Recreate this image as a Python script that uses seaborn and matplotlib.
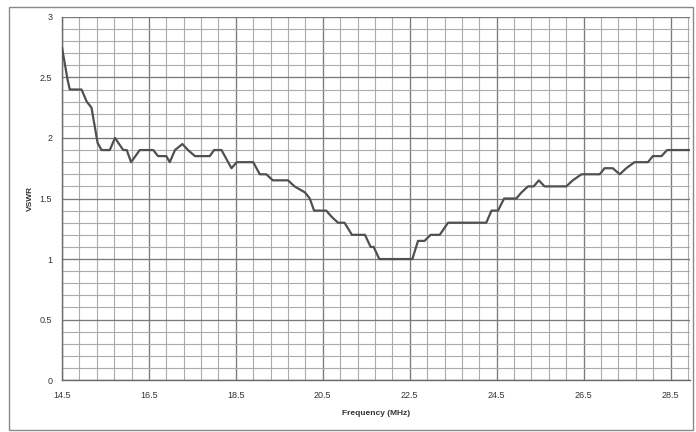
import matplotlib.pyplot as plt
import seaborn as sns
import pandas as pd
import numpy as np
from matplotlib.patches import Rectangle

sns.set_theme(style='white')
plt.rcParams['font.family'] = ['Liberation Sans', 'DejaVu Sans']

# VSWR readings (frequency in MHz)
freq = [14.5, 14.63, 14.68, 14.95, 15.07, 15.18, 15.32, 15.41, 15.6, 15.72,
        15.91, 15.99, 16.09, 16.29, 16.6, 16.71, 16.9, 16.98, 17.1, 17.27,
        17.4, 17.56, 17.9, 18.0, 18.17, 18.4, 18.52, 18.9, 19.05, 19.2,
        19.35, 19.7, 19.85, 20.09, 20.2, 20.3, 20.58, 20.7, 20.85, 21.0,
        21.17, 21.47, 21.6, 21.67, 21.8, 22.56, 22.69, 22.84, 22.98, 23.19,
        23.38, 24.26, 24.38, 24.53, 24.67, 24.95, 25.07, 25.22, 25.35, 25.47,
        25.6, 26.1, 26.25, 26.45, 26.87, 26.98, 27.17, 27.33, 27.48, 27.67,
        27.98, 28.09, 28.29, 28.42, 28.94]
vswr = [2.75, 2.48, 2.4, 2.4, 2.3, 2.25, 1.96, 1.9, 1.9, 2.0,
        1.9, 1.9, 1.8, 1.9, 1.9, 1.85, 1.85, 1.8, 1.9, 1.95,
        1.9, 1.85, 1.85, 1.9, 1.9, 1.75, 1.8, 1.8, 1.7, 1.7,
        1.65, 1.65, 1.6, 1.55, 1.5, 1.4, 1.4, 1.35, 1.3, 1.3,
        1.2, 1.2, 1.1, 1.1, 1.0, 1.0, 1.15, 1.15, 1.2, 1.2,
        1.3, 1.3, 1.4, 1.4, 1.5, 1.5, 1.55, 1.6, 1.6, 1.65,
        1.6, 1.6, 1.65, 1.7, 1.7, 1.75, 1.75, 1.7, 1.75, 1.8,
        1.8, 1.85, 1.85, 1.9, 1.9]
x_ticks = [14.5, 16.5, 18.5, 20.5, 22.5, 24.5, 26.5, 28.5]
y_ticks = [0, 0.5, 1, 1.5, 2, 2.5, 3]
y_labels = ['0', '0.5', '1', '1.5', '2', '2.5', '3']

df = pd.DataFrame({'Frequency': freq, 'VSWR': vswr})

fig = plt.figure(figsize=(6.96, 4.32), dpi=100)
ax = fig.add_axes([0.089, 0.12, 0.902, 0.841])

# grid: minor every 0.4 MHz / 0.1, major every 2 MHz / 0.5
for xv in np.arange(14.5, 28.95, 0.4):
    ax.axvline(xv, color='#ababab', lw=0.8, zorder=0)
for xv in x_ticks:
    ax.axvline(xv, color='#7a7a7a', lw=0.9, zorder=0)
for yv in np.arange(0, 3.01, 0.1):
    ax.axhline(yv, color='#ababab', lw=0.8, zorder=0)
for yv in y_ticks:
    ax.axhline(yv, color='#7a7a7a', lw=0.9, zorder=0)

sns.lineplot(data=df, x='Frequency', y='VSWR', ax=ax, color='#505050',
             linewidth=1.6, zorder=3)

ax.set_xlim(14.5, 28.94)
ax.set_ylim(0, 3)
ax.set_xticks(x_ticks)
ax.set_xticklabels([f'{v}' for v in x_ticks])
ax.set_yticks(y_ticks)
ax.set_yticklabels(y_labels)
ax.tick_params(axis='both', labelsize=6.5, colors='#333333', length=0)
ax.tick_params(axis='x', pad=8)
ax.tick_params(axis='y', pad=7)
ax.set_xlabel('Frequency (MHz)', fontsize=6, fontweight='bold', color='#333333', labelpad=7)
ax.set_ylabel('VSWR', fontsize=6, fontweight='bold', color='#333333', labelpad=4)

for side in ['top', 'right']:
    ax.spines[side].set_visible(False)
for side in ['left', 'bottom']:
    ax.spines[side].set_color('#6a6a6a')
    ax.spines[side].set_linewidth(1.0)

# outer chart border
fig.patches.append(Rectangle((9 / 696, 2 / 432), 684 / 696, 423 / 432,
                             transform=fig.transFigure, fill=False,
                             edgecolor='#8a8a8a', lw=1.0))

plt.savefig('out.png', dpi=100)
plt.close()
